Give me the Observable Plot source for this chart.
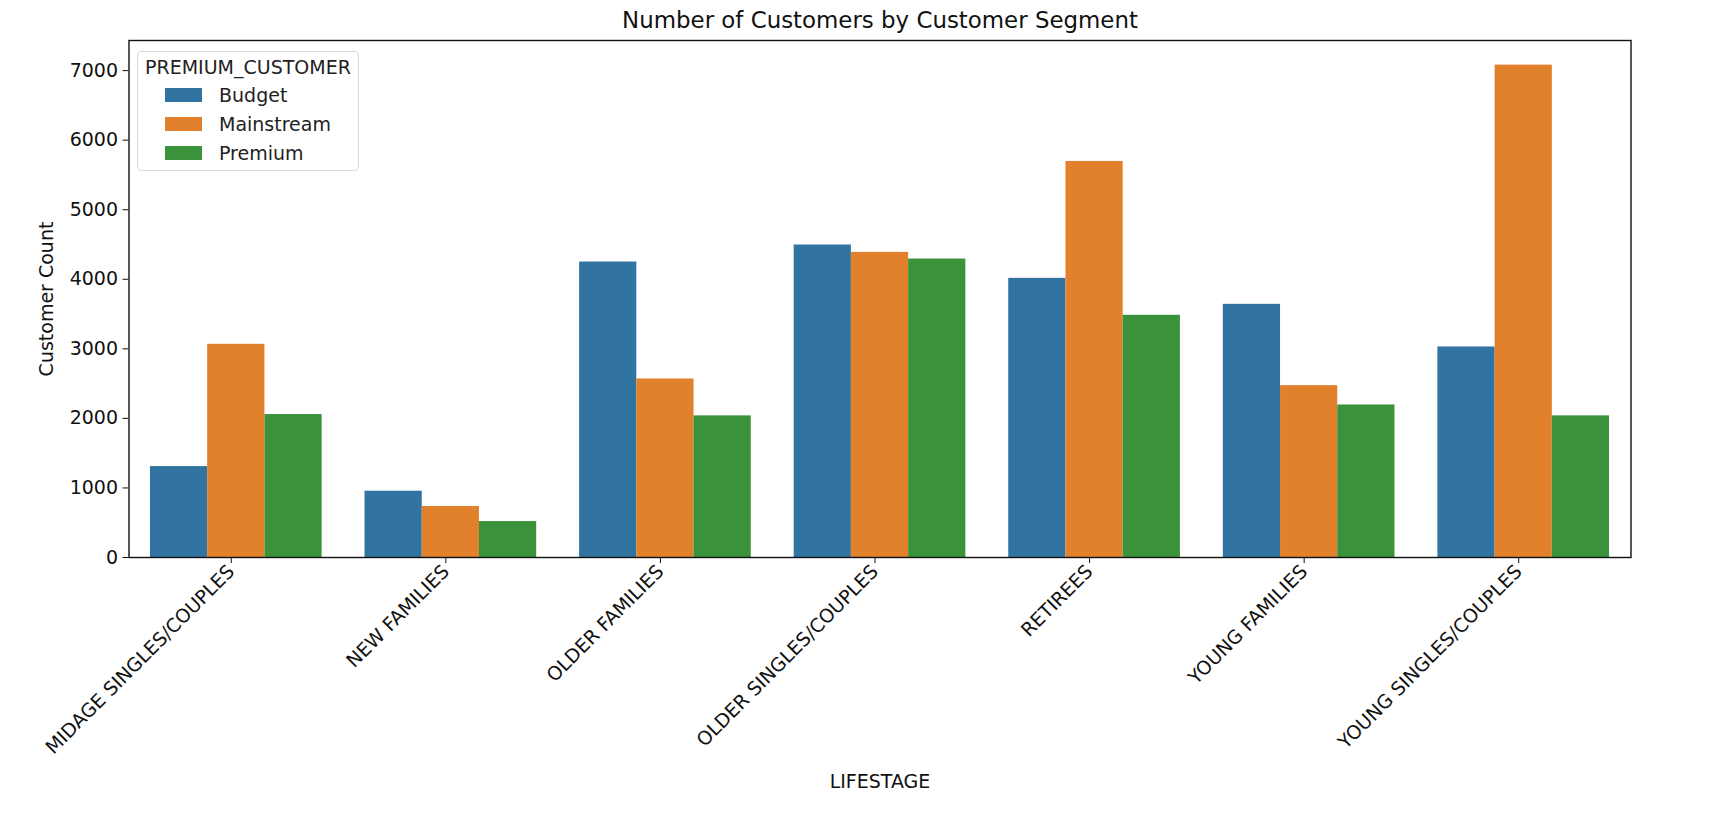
<!DOCTYPE html>
<html>
<head>
<meta charset="utf-8">
<script src="https://cdn.jsdelivr.net/npm/d3@7"></script>
<script src="https://cdn.jsdelivr.net/npm/@observablehq/plot@0.6"></script>
<style>
  html, body { margin: 0; padding: 0; background: #fff; }
  #wrap { position: relative; width: 1716px; height: 816px; font-family: "DejaVu Sans", sans-serif; }
  #legend { position: absolute; left: 137px; top: 51px; width: 222px; height: 120px; box-sizing: border-box;
            border: 1px solid #d9d9d9; border-radius: 4px; background: rgba(255,255,255,0.85); color: #222; font-size: 19px; }
  #legend .row { position: absolute; left: 0; height: 24px; line-height: 24px; white-space: nowrap; }
  #legend .sw { position: absolute; left: 27px; top: 5px; width: 37px; height: 14px; }
  #legend .lb { position: absolute; left: 81px; top: 0; }
</style>
</head>
<body>
<div id="wrap"></div>
<script>
const TITLE = "Number of Customers by Customer Segment";
const X_LABEL = "LIFESTAGE";
const Y_LABEL = "Customer Count";
const LEGEND_TITLE = "PREMIUM_CUSTOMER";
const LIFESTAGES = ["MIDAGE SINGLES/COUPLES", "NEW FAMILIES", "OLDER FAMILIES", "OLDER SINGLES/COUPLES", "RETIREES", "YOUNG FAMILIES", "YOUNG SINGLES/COUPLES"];
const SEGMENTS = ["Budget", "Mainstream", "Premium"];
const BUDGET     = [1307, 953, 4248, 4493, 4013, 3640, 3027];
const MAINSTREAM = [3065, 733, 2567, 4387, 5694, 2471, 7079];
const PREMIUM    = [2055, 517, 2036, 4291, 3482, 2193, 2036];
const COLORS = ["#3274a1", "#e1812c", "#3a923a"];
const Y_TICKS = [0, 1000, 2000, 3000, 4000, 5000, 6000, 7000];

const SERIES = [BUDGET, MAINSTREAM, PREMIUM];
const rows = [];
LIFESTAGES.forEach((stage, i) => {
  SEGMENTS.forEach((seg, j) => {
    rows.push({stage, segment: seg, value: SERIES[j][i], i, j});
  });
});
const GROUP = 0.8, BW = GROUP / SEGMENTS.length;
const yMax = d3.max(SERIES.flat()) * 1.05;

const chart = Plot.plot({
  width: 1716,
  height: 816,
  marginLeft: 128.5,
  marginRight: 85.5,
  marginTop: 40,
  marginBottom: 259,
  style: {fontFamily: "DejaVu Sans, sans-serif", fontSize: "19px", background: "white", color: "#111"},
  x: {type: "linear", domain: [-0.5, LIFESTAGES.length - 0.5]},
  y: {domain: [0, yMax]},
  color: {domain: SEGMENTS, range: COLORS},
  marks: [
    Plot.rectY(rows, {
      x1: d => d.i - GROUP / 2 + d.j * BW,
      x2: d => d.i - GROUP / 2 + (d.j + 1) * BW,
      y: "value",
      fill: "segment"
    }),
    Plot.axisY({ticks: Y_TICKS, tickFormat: d3.format("d"), tickSize: 6, tickPadding: 5, label: null, fontSize: 19, stroke: "#111"}),
    Plot.axisX({ticks: d3.range(LIFESTAGES.length), tickFormat: i => LIFESTAGES[i], tickRotate: -45, tickSize: 6, tickPadding: 5, dx: -5, label: null, fontSize: 19, stroke: "#111"}),
    Plot.frame({stroke: "#111", strokeWidth: 1.4}),
    Plot.text([TITLE], {frameAnchor: "top", lineAnchor: "middle", dy: -20, fontSize: 22.9, fill: "#111"}),
    Plot.text([Y_LABEL], {frameAnchor: "left", textAnchor: "middle", dx: -82, rotate: -90, fontSize: 19, fill: "#111"}),
    Plot.text([X_LABEL], {frameAnchor: "bottom", dy: 230, fontSize: 19, fill: "#111"})
  ]
});
const wrap = document.getElementById("wrap");
wrap.appendChild(chart);

const legend = document.createElement("div");
legend.id = "legend";
const t = document.createElement("div");
t.className = "row";
t.style.top = "3px";
t.style.left = "7px";
t.textContent = LEGEND_TITLE;
legend.appendChild(t);
SEGMENTS.forEach((seg, j) => {
  const r = document.createElement("div");
  r.className = "row";
  r.style.top = (31 + j * 29) + "px";
  r.style.width = "100%";
  const sw = document.createElement("div");
  sw.className = "sw";
  sw.style.background = COLORS[j];
  const lb = document.createElement("div");
  lb.className = "lb";
  lb.textContent = seg;
  r.appendChild(sw);
  r.appendChild(lb);
  legend.appendChild(r);
});
wrap.appendChild(legend);
</script>
</body>
</html>
